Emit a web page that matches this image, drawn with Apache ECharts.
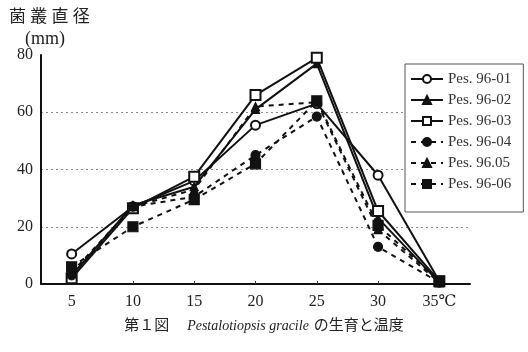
<!DOCTYPE html>
<html><head><meta charset="utf-8">
<script src="https://cdn.jsdelivr.net/npm/echarts@6/dist/echarts.min.js"></script>
<style>html,body{margin:0;padding:0;background:#fff}#c{width:528px;height:352px}</style>
</head><body><div id="c"></div>
<script>
const temps = [5, 10, 15, 20, 25, 30, 35];
const xTicks = [5, 10, 15, 20, 25, 30, 35];
const yTicks = [0, 20, 40, 60, 80];
const names = ['Pes. 96-01', 'Pes. 96-02', 'Pes. 96-03', 'Pes. 96-04', 'Pes. 96.05', 'Pes. 96-06'];
const s01 = [10.5, 27, 36, 55.5, 63, 38, 1];
const s02 = [3, 27.5, 34, 61, 77, 23, 0.5];
const s03 = [2, 26.5, 37.5, 66, 79, 25.5, 1];
const s04 = [3, 27, 30.5, 45, 58.5, 13, 0.5];
const s05 = [4, 27, 33, 62, 63.5, 19, 0.5];
const s06 = [6, 20, 29.5, 42, 64, 20.5, 1];
const seriesData = [s01, s02, s03, s04, s05, s06];
const symbols = ['emptyCircle', 'triangle', 'emptyRect', 'circle', 'triangle', 'rect'];
const sizes = [9, 8, 10, 9, 8, 10];
const dashed = [false, false, false, true, true, true];

const serif = '"Liberation Serif","DejaVu Serif","Noto Sans CJK JP",serif';
const chart = echarts.init(document.getElementById('c'));
chart.setOption({
  backgroundColor: '#fff',
  animation: false,
  grid: { left: 41, right: 58, top: 55, bottom: 68 },
  xAxis: {
    type: 'value', min: 2.5, max: 37.5,
    axisLine: { lineStyle: { color: '#111', width: 2 } },
    axisTick: { show: true, customValues: xTicks, inside: true, length: 3, lineStyle: { color: '#333' } },
    axisLabel: { customValues: xTicks, color: '#222', fontSize: 16, fontFamily: serif, margin: 10,
      formatter: v => v === 35 ? '35℃' : String(v) },
    splitLine: { show: false }
  },
  yAxis: {
    type: 'value', min: 0, max: 80, interval: 20,
    axisLine: { show: true, lineStyle: { color: '#111', width: 2 } },
    axisTick: { show: false },
    axisLabel: { color: '#222', fontSize: 16, fontFamily: serif, margin: 8 },
    splitLine: { show: true, lineStyle: { type: [2, 3], width: 1, color: ['transparent', '#888', '#888', '#888', 'transparent'] } }
  },
  legend: {
    orient: 'vertical', left: 405, top: 64,
    width: 118,
    padding: [7, 6, 20, 5],
    itemGap: 5, itemWidth: 32, itemHeight: 10,
    borderColor: '#555', borderWidth: 1, backgroundColor: '#fff',
    textStyle: { fontFamily: serif, fontSize: 15, color: '#333', lineHeight: 16, padding: [0, 6, 0, 0] },
    data: names
  },
  title: [
    { text: '菌 叢 直 径', left: 4, top: 4, textStyle: { fontFamily: serif, fontSize: 17, fontWeight: 'normal', color: '#222' } },
    { text: '(mm)', left: 20, top: 25, textStyle: { fontFamily: serif, fontSize: 18, fontWeight: 'normal', color: '#222' } },
    { text: '{b|第１図}　{i|Pestalotiopsis gracile} {b|の生育と温度}', left: 'center', top: 312,
      textStyle: { fontWeight: 'normal', rich: {
        b: { fontFamily: serif, fontSize: 15, color: '#222', fontWeight: 'normal' },
        i: { fontFamily: serif, fontSize: 14, color: '#222', fontStyle: 'italic', fontWeight: 'normal' }
      } } }
  ],
  series: names.map((n, i) => ({
    name: n, type: 'line',
    data: temps.map((t, j) => [t, seriesData[i][j]]),
    symbol: symbols[i], symbolSize: sizes[i],
    itemStyle: { color: '#111', borderColor: '#111', borderWidth: 1.2 },
    lineStyle: { color: '#111', width: 2, type: dashed[i] ? [5, 5] : 'solid' },
    z: 3 + i
  }))
});
</script></body></html>
